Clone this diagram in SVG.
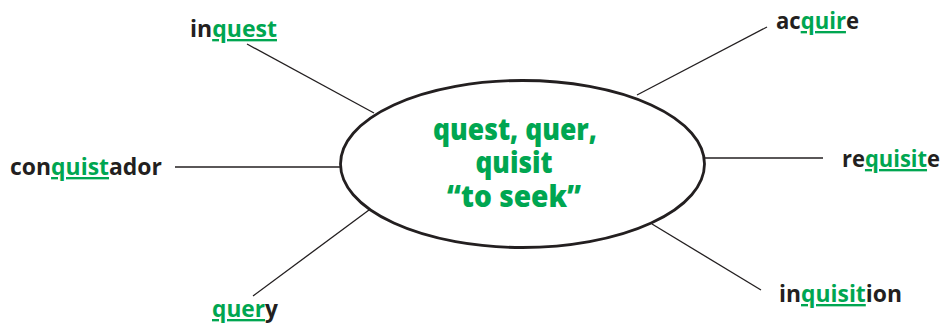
<svg xmlns="http://www.w3.org/2000/svg" width="944" height="326" viewBox="0 0 944 326">
<style>
.lbl{font-family:"Open Sans","Liberation Sans",sans-serif;font-weight:700;font-size:23.5px;fill:#231f20}
.g{fill:#00a651;text-decoration:underline}
.ctr{font-family:"Open Sans","Liberation Sans",sans-serif;font-weight:800;font-size:29.5px;fill:#00a651;text-anchor:middle}
.ln{stroke:#231f20;stroke-width:1.3;fill:none}
</style>
<rect width="944" height="326" fill="#fff"/>
<g id="connectors">
<line class="ln" x1="247" y1="44" x2="374" y2="113"/>
<line class="ln" x1="767" y1="27" x2="637" y2="95"/>
<line class="ln" x1="175" y1="167" x2="340" y2="167"/>
<line class="ln" x1="705" y1="158" x2="823" y2="158"/>
<line class="ln" x1="652" y1="224" x2="761" y2="290"/>
<line class="ln" x1="369" y1="210" x2="253" y2="296"/>
</g>
<g id="center">
<ellipse cx="522.5" cy="164" rx="182" ry="83.5" fill="#fff" stroke="#231f20" stroke-width="2.8"/>
<text class="ctr" x="515" y="139.5" textLength="164" lengthAdjust="spacingAndGlyphs">quest, quer,</text>
<text class="ctr" x="514" y="172.5" textLength="77" lengthAdjust="spacingAndGlyphs">quisit</text>
<text class="ctr" x="514" y="206.5" textLength="134" lengthAdjust="spacingAndGlyphs">“to seek”</text>
</g>
<g id="inquest"><text class="lbl" x="190" y="37" textLength="87" lengthAdjust="spacingAndGlyphs">in<tspan class="g">quest</tspan></text></g>
<g id="acquire"><text class="lbl" x="776" y="29" textLength="83" lengthAdjust="spacingAndGlyphs">ac<tspan class="g">quir</tspan>e</text></g>
<g id="conquistador"><text class="lbl" x="10" y="175" textLength="152" lengthAdjust="spacingAndGlyphs">con<tspan class="g">quist</tspan>ador</text></g>
<g id="requisite"><text class="lbl" x="842" y="167" textLength="98" lengthAdjust="spacingAndGlyphs">re<tspan class="g">quisit</tspan>e</text></g>
<g id="inquisition"><text class="lbl" x="779" y="302" textLength="123" lengthAdjust="spacingAndGlyphs">in<tspan class="g">quisit</tspan>ion</text></g>
<g id="query"><text class="lbl" x="212" y="317" textLength="66" lengthAdjust="spacingAndGlyphs"><tspan class="g">quer</tspan>y</text></g>
</svg>
